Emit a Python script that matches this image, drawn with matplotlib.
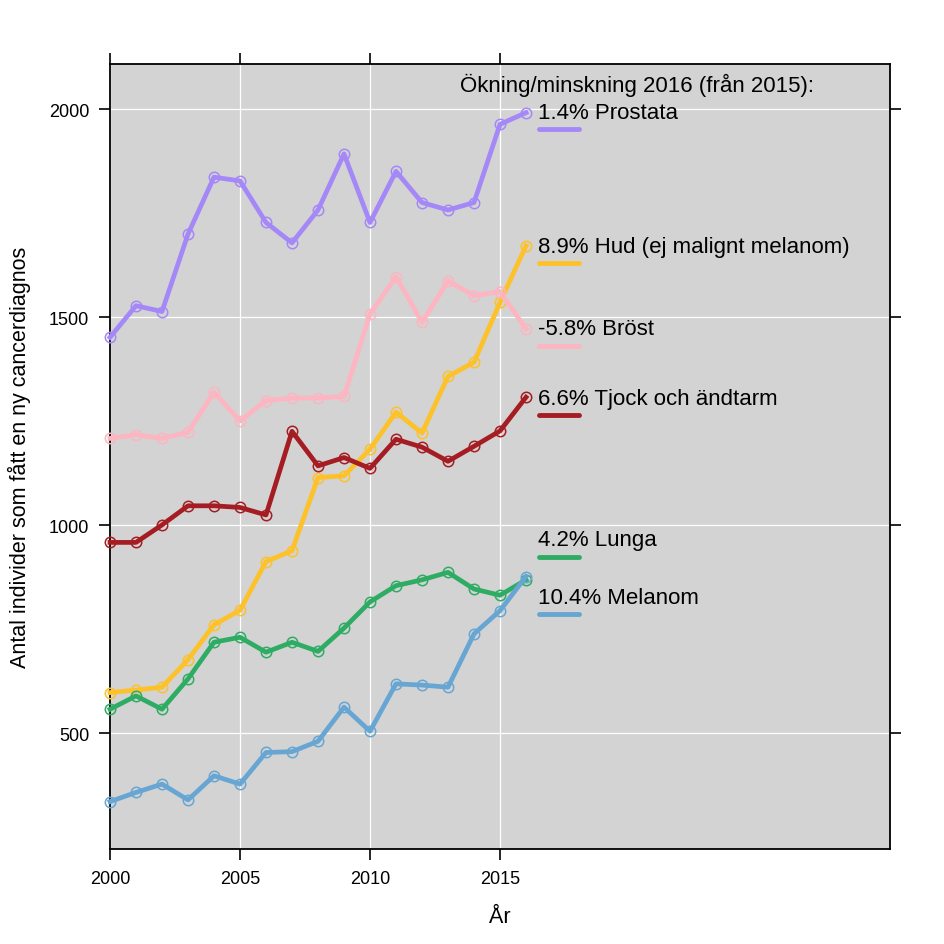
import matplotlib
matplotlib.use("Agg")
import matplotlib.pyplot as plt

plt.rcParams['font.family'] = ['Liberation Sans', 'DejaVu Sans']

years = list(range(2000, 2017))

prostata = [1452, 1528, 1514, 1700, 1837, 1828, 1728, 1679, 1758, 1893,
            1728, 1851, 1776, 1758, 1776, 1964, 1992]
hud = [598, 604, 611, 677, 761, 796, 913, 939, 1115, 1119,
       1183, 1272, 1222, 1358, 1392, 1536, 1672]
brost = [1209, 1218, 1209, 1224, 1320, 1251, 1300, 1306, 1306, 1310,
         1508, 1598, 1488, 1588, 1552, 1562, 1472]
tjock = [959, 959, 1001, 1047, 1047, 1043, 1025, 1226, 1143, 1163,
         1137, 1207, 1188, 1154, 1190, 1227, 1308]
lunga = [558, 590, 558, 631, 719, 731, 695, 719, 697, 753,
         816, 855, 869, 887, 847, 832, 869]
melanom = [336, 358, 378, 340, 398, 378, 454, 456, 481, 563,
           505, 619, 616, 611, 739, 795, 877]

series = [prostata, hud, brost, tjock, lunga, melanom]
names = ["1.4% Prostata", "8.9% Hud (ej malignt melanom)", "-5.8% Bröst",
         "6.6% Tjock och ändtarm", "4.2% Lunga", "10.4% Melanom"]
colors = ["#A588F7", "#FDC22A", "#FDB5C2", "#A51D22", "#2FAC64", "#67A6D3"]
# label heights (moved apart where the end points collide)
label_y = [1993, 1671, 1472, 1306, 965, 826]

fig = plt.figure(figsize=(9.45, 9.45), dpi=100)
ax = fig.add_axes([110 / 945, 1 - 850 / 945, 780 / 945, 785 / 945])
ax.set_facecolor("#D3D3D3")

ax.set_xlim(2000, 2030)
ax.set_ylim(222, 2109)
ax.set_xticks([2000, 2005, 2010, 2015])
ax.set_yticks([500, 1000, 1500, 2000])
ax.grid(color="white", lw=0.9)
ax.set_axisbelow(True)

for s in ax.spines.values():
    s.set_linewidth(1.3)
ax.tick_params(direction="out", length=8, width=1.2, labelsize=13,
               top=True, right=True, pad=7)

draw_order = [2, 3, 1, 0, 4, 5]
for i in draw_order:
    ax.plot(years, series[i], color=colors[i], lw=3.4, marker="o", ms=7.5,
            mfc="none", mec=colors[i], mew=1.1, zorder=3 + i * 0.1,
            solid_joinstyle="round", clip_on=False)

for name, col, ly in zip(names, colors, label_y):
    ax.text(2016.46, ly, name, fontsize=16, va="center", ha="left")
    ax.plot([2016.5, 2018.05], [ly - 40, ly - 40], color=col, lw=3.5,
            solid_capstyle="round")

ax.text(2013.46, 2061, "Ökning/minskning 2016 (från 2015):", fontsize=16,
        va="center", ha="left")

ax.set_xlabel("År", fontsize=15.5, labelpad=14)
ax.set_ylabel("Antal individer som fått en ny cancerdiagnos", fontsize=15.5,
              labelpad=13)

fig.savefig("out.png", dpi=100)
